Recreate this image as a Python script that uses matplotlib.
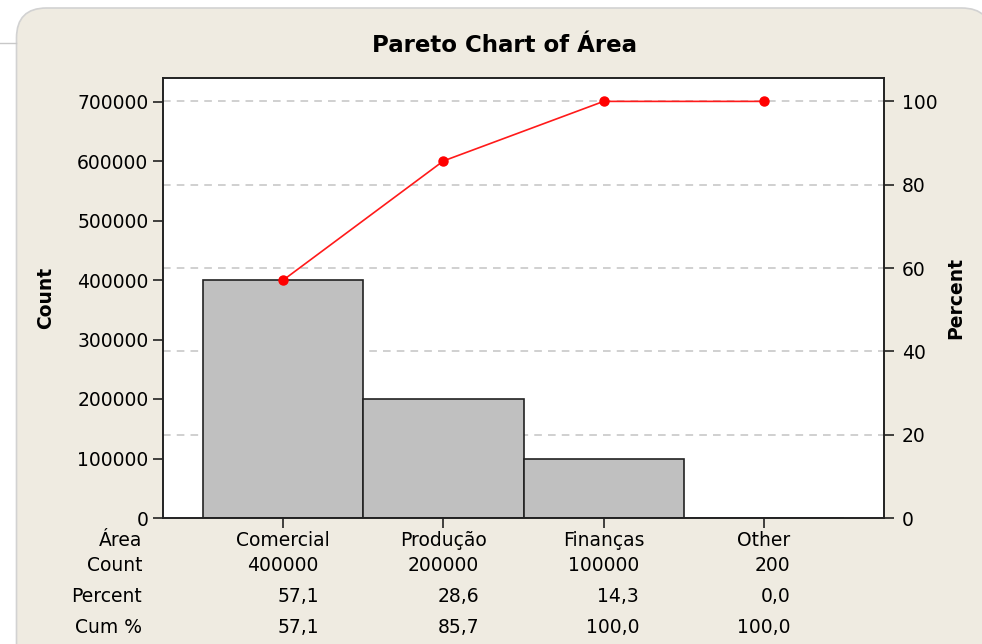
import matplotlib
matplotlib.use('Agg')
import matplotlib.pyplot as plt
from matplotlib.patches import FancyBboxPatch
from matplotlib.lines import Line2D

# data
categories = ['Comercial', 'Produção', 'Finanças', 'Other']
counts = [400000, 200000, 100000, 200]
percent = [57.1, 28.6, 14.3, 0.0]
cum_percent = [57.1, 85.7, 100.0, 100.0]
count_ticks = [0, 100000, 200000, 300000, 400000, 500000, 600000, 700000]
pct_ticks = [0, 20, 40, 60, 80, 100]

plt.rcParams['font.family'] = ['DejaVu Sans']
fs = 13.5
beige = '#EFEBE1'

fig = plt.figure(figsize=(9.82, 6.44), dpi=100, facecolor='white')

# rounded beige panel behind everything (pixel coords)
panel = FancyBboxPatch((16.5, -40), 975, 644 - 8 + 40, boxstyle='round,pad=0,rounding_size=30',
                       transform=None, facecolor=beige, edgecolor='#D2D2D2', linewidth=1.2,
                       zorder=-10)
fig.add_artist(panel)
fig.add_artist(Line2D([0, 16], [644 - 43, 644 - 43], transform=None, color='#C8C8C8',
                      linewidth=1, zorder=-10))

ax = fig.add_axes([163 / 982, 1 - 518 / 644, 721 / 982, (518 - 77.7) / 644])
ax.set_facecolor('white')
ymax = 740000
total = sum(counts)
ax.set_xlim(-0.75, 3.75)
ax.set_ylim(0, ymax)

# dashed grid at the percent ticks, behind the bars
for p in pct_ticks[1:]:
    ax.axhline(total * p / 100, color='#C4C4C4', linestyle=(0, (5, 4)), linewidth=1.1, zorder=0)

ax.bar(range(len(categories)), counts, width=1.0, color='#C0C0C0', edgecolor='#222222',
       linewidth=1.2, zorder=2)

ax.set_yticks(count_ticks)
ax.set_yticklabels([str(v) for v in count_ticks], fontsize=fs)
ax.set_xticks(range(len(categories)))
ax.set_xticklabels([])
ax.tick_params(axis='both', direction='out', length=7, width=1.2, color='#222222')
for s in ax.spines.values():
    s.set_color('#222222')
    s.set_linewidth(1.2)
ax.set_ylabel('Count', fontsize=fs, fontweight='bold', labelpad=16)

ax2 = ax.twinx()
ax2.set_ylim(0, ymax / total * 100)
ax2.plot(range(len(categories)), cum_percent, color='#FF1A1A', linewidth=1.2,
         marker='o', markersize=6.5, markerfacecolor='#FF0000', markeredgecolor='#FF0000')
ax2.set_yticks(pct_ticks)
ax2.set_yticklabels([str(v) for v in pct_ticks], fontsize=fs)
ax2.tick_params(axis='y', direction='out', length=7, width=1.2, color='#222222', pad=6)
for s in ax2.spines.values():
    s.set_color('#222222')
    s.set_linewidth(1.2)
ax2.set_ylabel('Percent', fontsize=fs, fontweight='bold', labelpad=6)

fig.text(504 / 982, 1 - 45 / 644, 'Pareto Chart of Área', ha='center', va='center',
         fontsize=16.5, fontweight='bold')

# table under the axis
row_y = [-0.052, -0.109, -0.179, -0.248]
row_names = ['Área', 'Count', 'Percent', 'Cum %']
for name, y in zip(row_names, row_y):
    ax.text(-0.029, y, name, transform=ax.transAxes, ha='right', va='center', fontsize=fs)

tr = ax.get_xaxis_transform()
for i, cat in enumerate(categories):
    ax.text(i, row_y[0], cat, transform=tr, ha='center', va='center', fontsize=fs)

fig.canvas.draw()
renderer = fig.canvas.get_renderer()
for i in range(len(categories)):
    col = [str(counts[i]), f'{percent[i]:.1f}'.replace('.', ','),
           f'{cum_percent[i]:.1f}'.replace('.', ',')]
    texts = [ax.text(i, y, s, transform=tr, ha='right', va='center', fontsize=fs)
             for s, y in zip(col, row_y[1:])]
    w = max(t.get_window_extent(renderer).width for t in texts)
    px = ax.transData.transform((i, 0))[0] + w / 2
    xd = ax.transData.inverted().transform((px, 0))[0]
    for t in texts:
        t.set_x(xd)

fig.savefig('out.png', dpi=100, facecolor='white')
